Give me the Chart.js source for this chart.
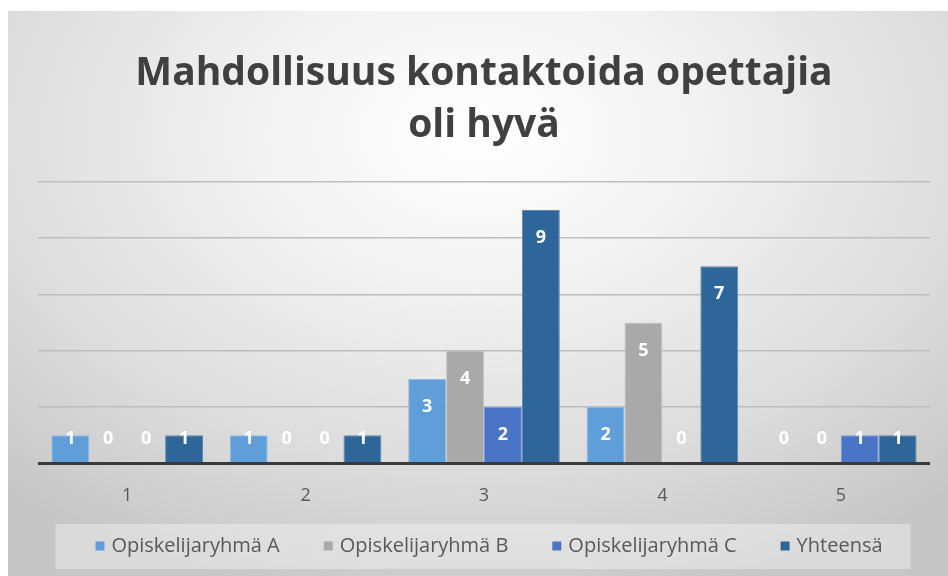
<!DOCTYPE html>
<html>
<head>
<meta charset="utf-8">
<script src="https://cdn.jsdelivr.net/npm/chart.js@4/dist/chart.umd.min.js"></script>
<style>
  html, body { margin: 0; padding: 0; background: #ffffff; width: 948px; height: 576px; overflow: hidden; }
  #wrap {
    position: absolute; left: 8px; top: 11px; width: 940px; height: 565px;
    background: radial-gradient(ellipse 75% 85% at 50% 22%, #ffffff 0%, #f3f3f3 30%, #dcdcdc 70%, #c6c6c6 100%);
  }
</style>
</head>
<body>
<div id="wrap"><canvas id="c"></canvas></div>
<script>
const categories = ['1', '2', '3', '4', '5'];
const seriesNames = ['Opiskelijaryhmä A', 'Opiskelijaryhmä B', 'Opiskelijaryhmä C', 'Yhteensä'];
const groupA = [1, 1, 3, 2, 0];
const groupB = [0, 0, 4, 5, 0];
const groupC = [0, 0, 2, 0, 1];
const total  = [1, 1, 9, 7, 1];
const titleLines = ['Mahdollisuus kontaktoida opettajia', 'oli hyvä'];

const colors = ['#5f9ed8', '#a9a9a9', '#4a75c6', '#2e6699'];
const borders = ['#8dbbe6', '#c4c4c4', '#7a9ad6', '#5c89b4'];
const seriesData = [groupA, groupB, groupC, total];

const FONT = '"Open Sans", Lato, sans-serif';

const valueLabels = {
  id: 'valueLabels',
  afterDatasetsDraw(chart) {
    const ctx = chart.ctx;
    const yScale = chart.scales.y;
    const base = yScale.getPixelForValue(0);
    ctx.save();
    ctx.fillStyle = '#ffffff';
    ctx.font = 'bold 18px ' + FONT;
    ctx.textAlign = 'center';
    ctx.textBaseline = 'middle';
    chart.data.datasets.forEach((ds, i) => {
      const meta = chart.getDatasetMeta(i);
      meta.data.forEach((el, j) => {
        const y = Math.min(el.y + 28, base - 25);
        ctx.fillText(String(ds.data[j]), el.x, y);
      });
    });
    ctx.restore();
  }
};

// Legend drawn from the chart's own dataset labels/colours, with Excel-like spacing
const customLegend = {
  id: 'customLegend',
  afterDraw(chart) {
    const ctx = chart.ctx;
    const ds = chart.data.datasets;
    const font = '20px ' + FONT;
    const box = 9, gapText = 7, gapItem = 44;
    ctx.save();
    ctx.font = font;
    const widths = ds.map(d => box + gapText + ctx.measureText(d.label).width);
    const total = widths.reduce((a, b) => a + b, 0) + gapItem * (ds.length - 1);
    const cx = (chart.chartArea.left + chart.chartArea.right) / 2 + 5;
    const cy = chart.height - 30;
    let x = cx - total / 2;
    // band
    ctx.fillStyle = 'rgba(255,255,255,0.35)';
    ctx.fillRect(x - 40, cy - 22, total + 68, 45);
    ctx.textBaseline = 'middle';
    ctx.textAlign = 'left';
    ds.forEach((d, i) => {
      ctx.fillStyle = d.backgroundColor;
      ctx.fillRect(x, cy - box / 2, box, box);
      ctx.fillStyle = '#595959';
      ctx.fillText(d.label, x + box + gapText, cy);
      x += widths[i] + gapItem;
    });
    ctx.restore();
  }
};

new Chart(document.getElementById('c'), {
  type: 'bar',
  data: {
    labels: categories,
    datasets: seriesNames.map((name, i) => ({
      label: name,
      data: seriesData[i],
      backgroundColor: colors[i],
      borderColor: borders[i],
      borderWidth: 1,
      categoryPercentage: 0.85,
      barPercentage: 1.0
    }))
  },
  options: {
    responsive: true,
    maintainAspectRatio: false,
    animation: false,
    layout: { padding: { left: 30, right: 18, top: 0, bottom: 55 } },
    plugins: {
      title: {
        display: true,
        text: titleLines,
        color: '#404040',
        font: { family: FONT, size: 39, weight: 'bold', lineHeight: 1.33 },
        padding: { top: 37, bottom: 30 }
      },
      legend: { display: false },
      tooltip: { enabled: false }
    },
    scales: {
      x: {
        grid: { display: false },
        border: { display: false },
        ticks: { color: '#595959', font: { family: FONT, size: 18 }, padding: 14 }
      },
      y: {
        min: 0,
        max: 10,
        ticks: { display: false, stepSize: 2 },
        border: { display: false },
        grid: {
          drawTicks: false,
          color: ctx => ctx.tick && ctx.tick.value === 0 ? '#3a3a3a' : '#bdbdbd',
          lineWidth: ctx => ctx.tick && ctx.tick.value === 0 ? 3 : 1.5
        }
      }
    }
  },
  plugins: [valueLabels, customLegend]
});
</script>
</body>
</html>
